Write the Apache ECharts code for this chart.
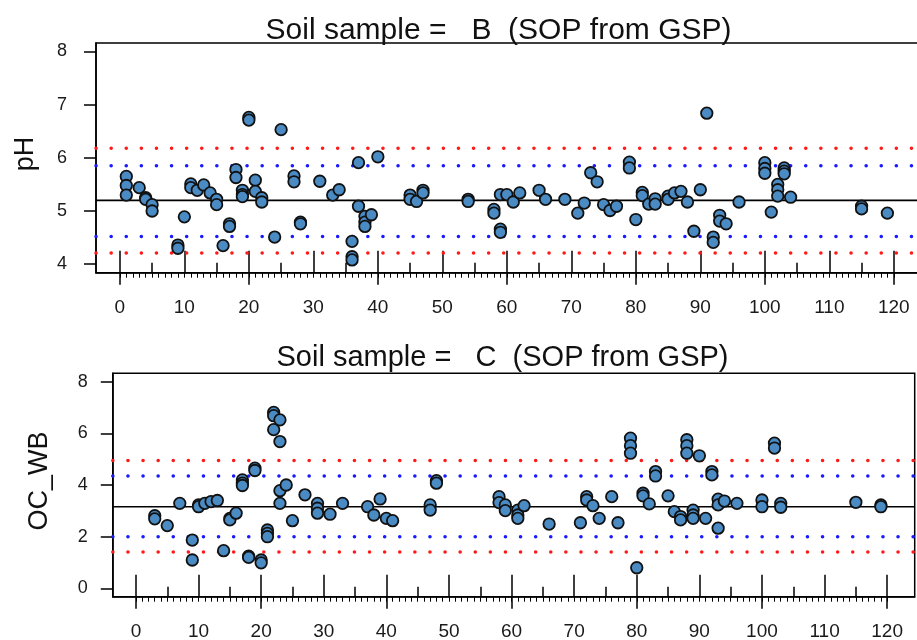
<!DOCTYPE html>
<html>
<head>
<meta charset="utf-8">
<script src="https://cdn.jsdelivr.net/npm/echarts@6/dist/echarts.min.js"></script>
<style>
  html, body { margin: 0; padding: 0; background: #fff; }
  #chart { width: 917px; height: 640px; }
</style>
</head>
<body>
<div id="chart"></div>
<script>
// ---------------- data ----------------
const titleB = 'Soil sample =   B  (SOP from GSP)';
const titleC = 'Soil sample =   C  (SOP from GSP)';

const xTickLabels = [0, 10, 20, 30, 40, 50, 60, 70, 80, 90, 100, 110, 120];
const phTickLabels = [4, 5, 6, 7, 8];
const ocTickLabels = [0, 2, 4, 6, 8];

// pH panel (sample B)
const phIds = [1,1,1, 3, 4,4, 5,5, 9,9, 10, 11,11, 12, 13, 14, 15,15, 16, 17,17, 18,18, 19,19,19, 20,20, 21,21, 22,22,
  24, 25, 27,27, 28,28, 31, 33, 34, 36,36,36, 37,37, 38,38,38, 39, 40, 45,45, 46, 47,47, 54,54, 58,58, 59,59,59,
  60, 61, 62, 65, 66, 69, 71, 72, 73, 74, 75, 76, 77, 79,79, 80, 81,81, 82, 83,83, 85,85, 86, 87, 88, 89, 90, 91,
  92,92, 93,93, 94, 96, 100,100,100, 101, 102,102,102, 103,103,103, 104, 115,115, 119];
const phValues = [5.65,5.48,5.30, 5.44, 5.25,5.22, 5.12,5.00, 4.36,4.30, 4.89, 5.51,5.44, 5.39, 5.49, 5.34, 5.22,5.12, 4.35, 4.76,4.71, 5.78,5.63, 5.39,5.31,5.27, 6.76,6.71, 5.58,5.37, 5.25,5.17,
  4.51, 6.53, 5.66,5.55, 4.79,4.76, 5.56, 5.30, 5.40, 4.43,4.14,4.08, 5.91,5.09, 4.90,4.79,4.71, 4.93, 6.02, 5.30,5.22, 5.18, 5.39,5.34, 5.22,5.18, 5.03,4.96, 5.31,4.66,4.60,
  5.31, 5.17, 5.34, 5.39, 5.22, 5.22, 4.96, 5.15, 5.72, 5.55, 5.12, 5.01, 5.09, 5.92,5.81, 4.84, 5.35,5.29, 5.13, 5.23,5.13, 5.28,5.22, 5.34, 5.37, 5.17, 4.62, 5.40, 6.84,
  4.51,4.41, 4.92,4.81, 4.76, 5.17, 5.91,5.80,5.71, 4.98, 5.50,5.40,5.28, 5.81,5.75,5.70, 5.26, 5.09,5.04, 4.96];
const phMean = 5.20;
const phInner = [4.52, 5.85];   // blue dotted
const phOuter = [4.21, 6.18];   // red dotted

// OC_WB panel (sample C)
const ocIds = [3,3, 5, 7, 9,9, 10,10, 11, 12, 13, 14, 15,15, 16, 17,17,17, 18,18, 19,19, 20,20, 21,21,21, 22,22,22,
  23,23,23,23, 24, 25, 27, 29,29,29, 31, 33, 37, 38, 39, 40, 41, 47,47, 48,48, 58,58, 59,59, 61,61,61, 62, 66,
  71, 72,72, 73, 74, 76, 77, 79,79,79, 80, 81,81, 82, 83,83, 85, 86, 87,87, 88,88,88, 89,89,89, 90, 91, 92,92,
  93,93,93, 94, 96, 100,100, 102,102, 103,103, 115, 119,119];
const ocValues = [2.81,2.69, 2.43, 3.29, 1.87,1.10, 3.23,3.16, 3.29, 3.36, 3.40, 1.46, 2.71,2.65, 2.91, 4.20,4.07,3.98, 1.25,1.20, 4.65,4.56, 1.10,0.99, 2.26,2.13,2.00, 6.81,6.68,6.14,
  6.52,5.68,3.78,3.29, 4.00, 2.62, 3.62, 3.29,3.10,2.91, 2.87, 3.29, 3.16, 2.84, 3.46, 2.71, 2.62, 3.23,3.03, 4.17,4.07, 3.55,3.32, 3.23,3.01, 3.03,2.84,2.71, 3.20, 2.49,
  2.54, 3.55,3.42, 3.20, 2.71, 3.55, 2.54, 5.81,5.52,5.23, 0.80, 3.68,3.58, 3.27, 4.52,4.35, 3.58, 2.97, 2.78,2.65, 5.75,5.52,5.23, 3.03,2.84,2.71, 5.13, 2.71, 4.52,4.39,
  3.45,3.23,2.33, 3.38, 3.29, 3.42,3.16, 5.62,5.43, 3.29,3.14, 3.33, 3.23,3.16];
const ocMean = 3.16;
const ocInner = [2.00, 4.35];
const ocOuter = [1.41, 4.95];

// ---------------- chart ----------------
const FONT = '"Liberation Sans", Arial, Helvetica, sans-serif';
const X_MIN = -3.7, X_MAX = 124.4;
const minorTicks = []; for (let i = 0; i <= 120; i++) minorTicks.push(i);
const fiveTicks = []; for (let i = 5; i <= 115; i += 10) fiveTicks.push(i);
const twentyTicks = [0, 20, 40, 60, 80, 100, 120];

function xAxes(gridIndex) {
  const base = {
    type: 'value', gridIndex, min: X_MIN, max: X_MAX, position: 'bottom',
    splitLine: { show: false }, axisLabel: { show: false },
    axisLine: { show: false, onZero: false }
  };
  return [
    Object.assign({}, base, {
      axisLine: { show: true, onZero: false, lineStyle: { color: '#000', width: 1.5 } },
      axisTick: { show: true, inside: true, length: 22, customValues: xTickLabels, lineStyle: { color: '#000', width: 1.5 } },
      axisLabel: { show: true, customValues: xTickLabels, margin: 26, fontSize: 19, color: '#1a1a1a', fontFamily: FONT }
    }),
    Object.assign({}, base, {
      axisTick: { show: true, inside: true, length: 10, customValues: fiveTicks, lineStyle: { color: '#000', width: 1.5 } }
    }),
    Object.assign({}, base, {
      axisTick: { show: true, inside: false, length: 5, customValues: minorTicks, lineStyle: { color: '#000', width: 1 } }
    }),
    Object.assign({}, base, {
      axisTick: { show: true, inside: false, length: 12, customValues: twentyTicks, lineStyle: { color: '#000', width: 1.5 } }
    })
  ];
}

function yAxis(gridIndex, min, max, ticks, margin) {
  return {
    type: 'value', gridIndex, min, max,
    splitLine: { show: false },
    axisLine: { show: true, onZero: false, lineStyle: { color: '#000', width: 1.5 } },
    axisTick: { show: true, length: 12, customValues: ticks, lineStyle: { color: '#000', width: 1.5 } },
    axisLabel: { show: true, customValues: ticks, margin, fontSize: 18, color: '#1a1a1a', fontFamily: FONT }
  };
}

function refLine(xAxisIndex, yAxisIndex, value, color, dotted) {
  return {
    type: 'line', xAxisIndex, yAxisIndex, symbol: 'none', silent: true, z: 1,
    data: [[X_MIN, value], [X_MAX, value]],
    lineStyle: dotted
      ? { color, width: 3.5, type: [0.1, 15], cap: 'round' }
      : { color, width: 1.6, type: 'solid' }
  };
}

function points(ids, vals) { return ids.map((x, i) => [x, vals[i]]); }

function scatter(xAxisIndex, yAxisIndex, ids, vals) {
  return {
    type: 'scatter', xAxisIndex, yAxisIndex, z: 5, symbolSize: 11.5,
    data: points(ids, vals),
    itemStyle: { color: '#4a8bc4', borderColor: '#111', borderWidth: 1.8, opacity: 1 }
  };
}

const option = {
  animation: false,
  backgroundColor: '#fff',
  grid: [
    { left: 96, top: 43, width: 826.2, height: 229.7, show: true, borderColor: '#000', borderWidth: 1.5,
      containLabel: false, outerBoundsMode: 'none' },
    { left: 112.8, top: 373.3, width: 801.9, height: 223.4, show: true, borderColor: '#000', borderWidth: 1.5,
      containLabel: false, outerBoundsMode: 'none' }
  ],
  xAxis: xAxes(0).concat(xAxes(1)),
  yAxis: [yAxis(0, 3.84, 8.16, phTickLabels, 29), yAxis(1, -0.32, 8.32, ocTickLabels, 25)],
  series: [
    refLine(0, 0, phOuter[0], '#ff1a1a', true),
    refLine(0, 0, phOuter[1], '#ff1a1a', true),
    refLine(0, 0, phInner[0], '#1a1aff', true),
    refLine(0, 0, phInner[1], '#1a1aff', true),
    refLine(0, 0, phMean, '#000', false),
    scatter(0, 0, phIds, phValues),
    refLine(4, 1, ocOuter[0], '#ff1a1a', true),
    refLine(4, 1, ocOuter[1], '#ff1a1a', true),
    refLine(4, 1, ocInner[0], '#1a1aff', true),
    refLine(4, 1, ocInner[1], '#1a1aff', true),
    refLine(4, 1, ocMean, '#000', false),
    scatter(4, 1, ocIds, ocValues)
  ],
  graphic: [
    { type: 'text', x: 498.5, y: 31, style: { text: titleB, font: '30px ' + FONT, fill: '#111', align: 'center', verticalAlign: 'middle' } },
    { type: 'text', x: 502.5, y: 358, style: { text: titleC, font: '29px ' + FONT, fill: '#111', align: 'center', verticalAlign: 'middle' } },
    { type: 'text', x: 26, y: 154, rotation: Math.PI / 2, style: { text: 'pH', font: '27px ' + FONT, fill: '#111', align: 'center', verticalAlign: 'middle' } },
    { type: 'text', x: 40, y: 481, rotation: Math.PI / 2, style: { text: 'OC_WB', font: '27px ' + FONT, fill: '#111', align: 'center', verticalAlign: 'middle' } }
  ]
};

const chart = echarts.init(document.getElementById('chart'), null, { renderer: 'canvas' });
chart.setOption(option);
</script>
</body>
</html>
